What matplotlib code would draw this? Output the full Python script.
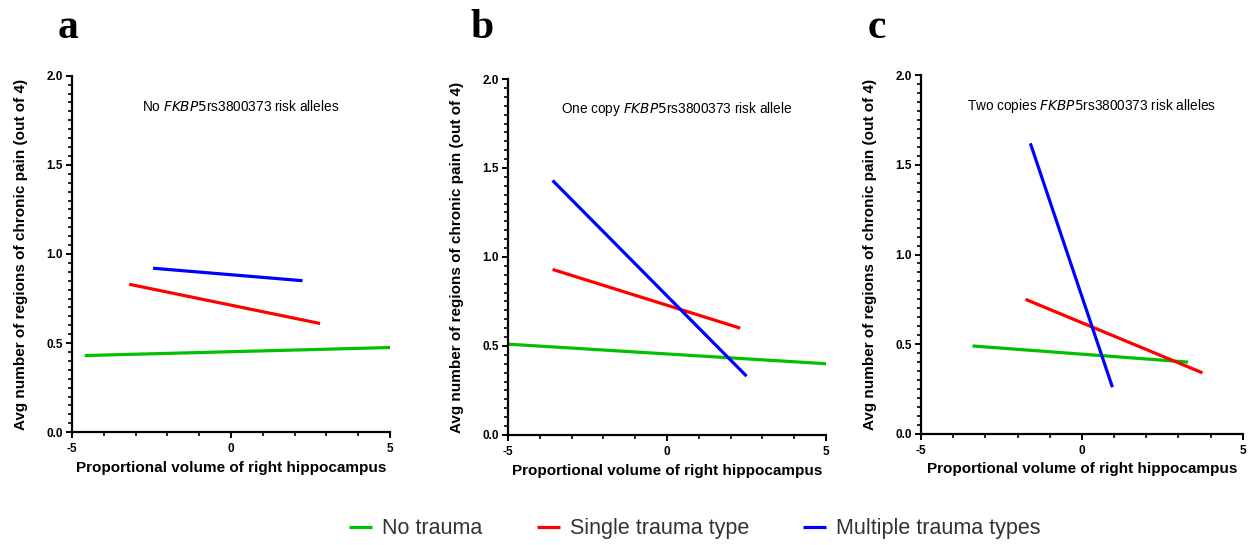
import matplotlib
matplotlib.use("Agg")
import matplotlib.pyplot as plt
from matplotlib.ticker import MultipleLocator

plt.rcParams["font.family"] = ["Liberation Sans", "DejaVu Sans"]

# fitted line endpoints (x = proportional volume, y = avg regions of pain)
panels = ["a", "b", "c"]
titles_pre = ["No ", "One copy ", "Two copies "]
titles_post = ["rs3800373 risk alleles", "rs3800373 risk allele", "rs3800373 risk alleles"]
groups = ["No trauma", "Single trauma type", "Multiple trauma types"]
colors = ["#00c000", "#ff0000", "#0000ff"]

no_trauma_x = [[-4.6, 5.0], [-5.0, 5.0], [-3.4, 3.3]]
no_trauma_y = [[0.43, 0.475], [0.51, 0.40], [0.49, 0.40]]
single_x = [[-3.2, 2.8], [-3.6, 2.3], [-1.75, 3.75]]
single_y = [[0.83, 0.61], [0.93, 0.60], [0.75, 0.34]]
multiple_x = [[-2.45, 2.25], [-3.6, 2.5], [-1.6, 0.95]]
multiple_y = [[0.92, 0.85], [1.43, 0.33], [1.62, 0.26]]

xs = [no_trauma_x, single_x, multiple_x]
ys = [no_trauma_y, single_y, multiple_y]

axes_rects = [
    [0.0575, 0.207, 0.254, 0.654],
    [0.4058, 0.202, 0.254, 0.653],
    [0.7356, 0.204, 0.257, 0.658],
]
letter_x = [0.054, 0.385, 0.7]

fig = plt.figure(figsize=(12.52, 5.45), dpi=100)

handles = []
for i, rect in enumerate(axes_rects):
    ax = fig.add_axes(rect)
    for g in range(3):
        (ln,) = ax.plot(xs[g][i], ys[g][i], color=colors[g], lw=2.3,
                        solid_capstyle="butt", label=groups[g])
        if i == 0:
            handles.append(ln)
    ax.set_xlim(-5, 5)
    ax.set_ylim(0, 2)
    ax.xaxis.set_major_locator(MultipleLocator(5))
    ax.xaxis.set_minor_locator(MultipleLocator(1))
    ax.yaxis.set_major_locator(MultipleLocator(0.5))
    ax.yaxis.set_minor_locator(MultipleLocator(0.05))
    ax.yaxis.set_major_formatter(lambda v, p: f"{v:.1f}")
    ax.xaxis.set_major_formatter(lambda v, p: f"{v:g}")
    for s in ["top", "right"]:
        ax.spines[s].set_visible(False)
    for s in ["left", "bottom"]:
        ax.spines[s].set_linewidth(1.6)
    ax.tick_params(which="major", length=4, width=1.4, labelsize=8.5)
    ax.tick_params(axis="x", which="major", pad=4)
    ax.tick_params(axis="y", which="major", pad=2.5)
    ax.tick_params(which="minor", length=3, width=1.2)
    for lab in ax.get_xticklabels() + ax.get_yticklabels():
        lab.set_fontweight("bold")
    ax.set_xlabel("Proportional volume of right hippocampus", fontsize=11,
                  fontweight="bold", labelpad=4)
    ax.set_ylabel("Avg number of regions of chronic pain (out of 4)", fontsize=11,
                  fontweight="bold", labelpad=13)
    ax.text(0.53, 0.915,
            titles_pre[i] + r"$\it{FKBP5}$" + titles_post[i],
            transform=ax.transAxes, ha="center", va="center", fontsize=9.8)
    fig.text(letter_x[i], 0.948, panels[i], family="Liberation Serif",
             fontweight="bold", fontsize=30, ha="center", va="center")

leg = fig.legend(handles, groups, loc="center", bbox_to_anchor=(0.555, 0.03),
                 ncol=3, frameon=False, fontsize=15.5,
                 handlelength=1.07, columnspacing=2.5, handletextpad=0.47)
for t in leg.get_texts():
    t.set_color("#333333")

fig.savefig("out.png", dpi=100)
